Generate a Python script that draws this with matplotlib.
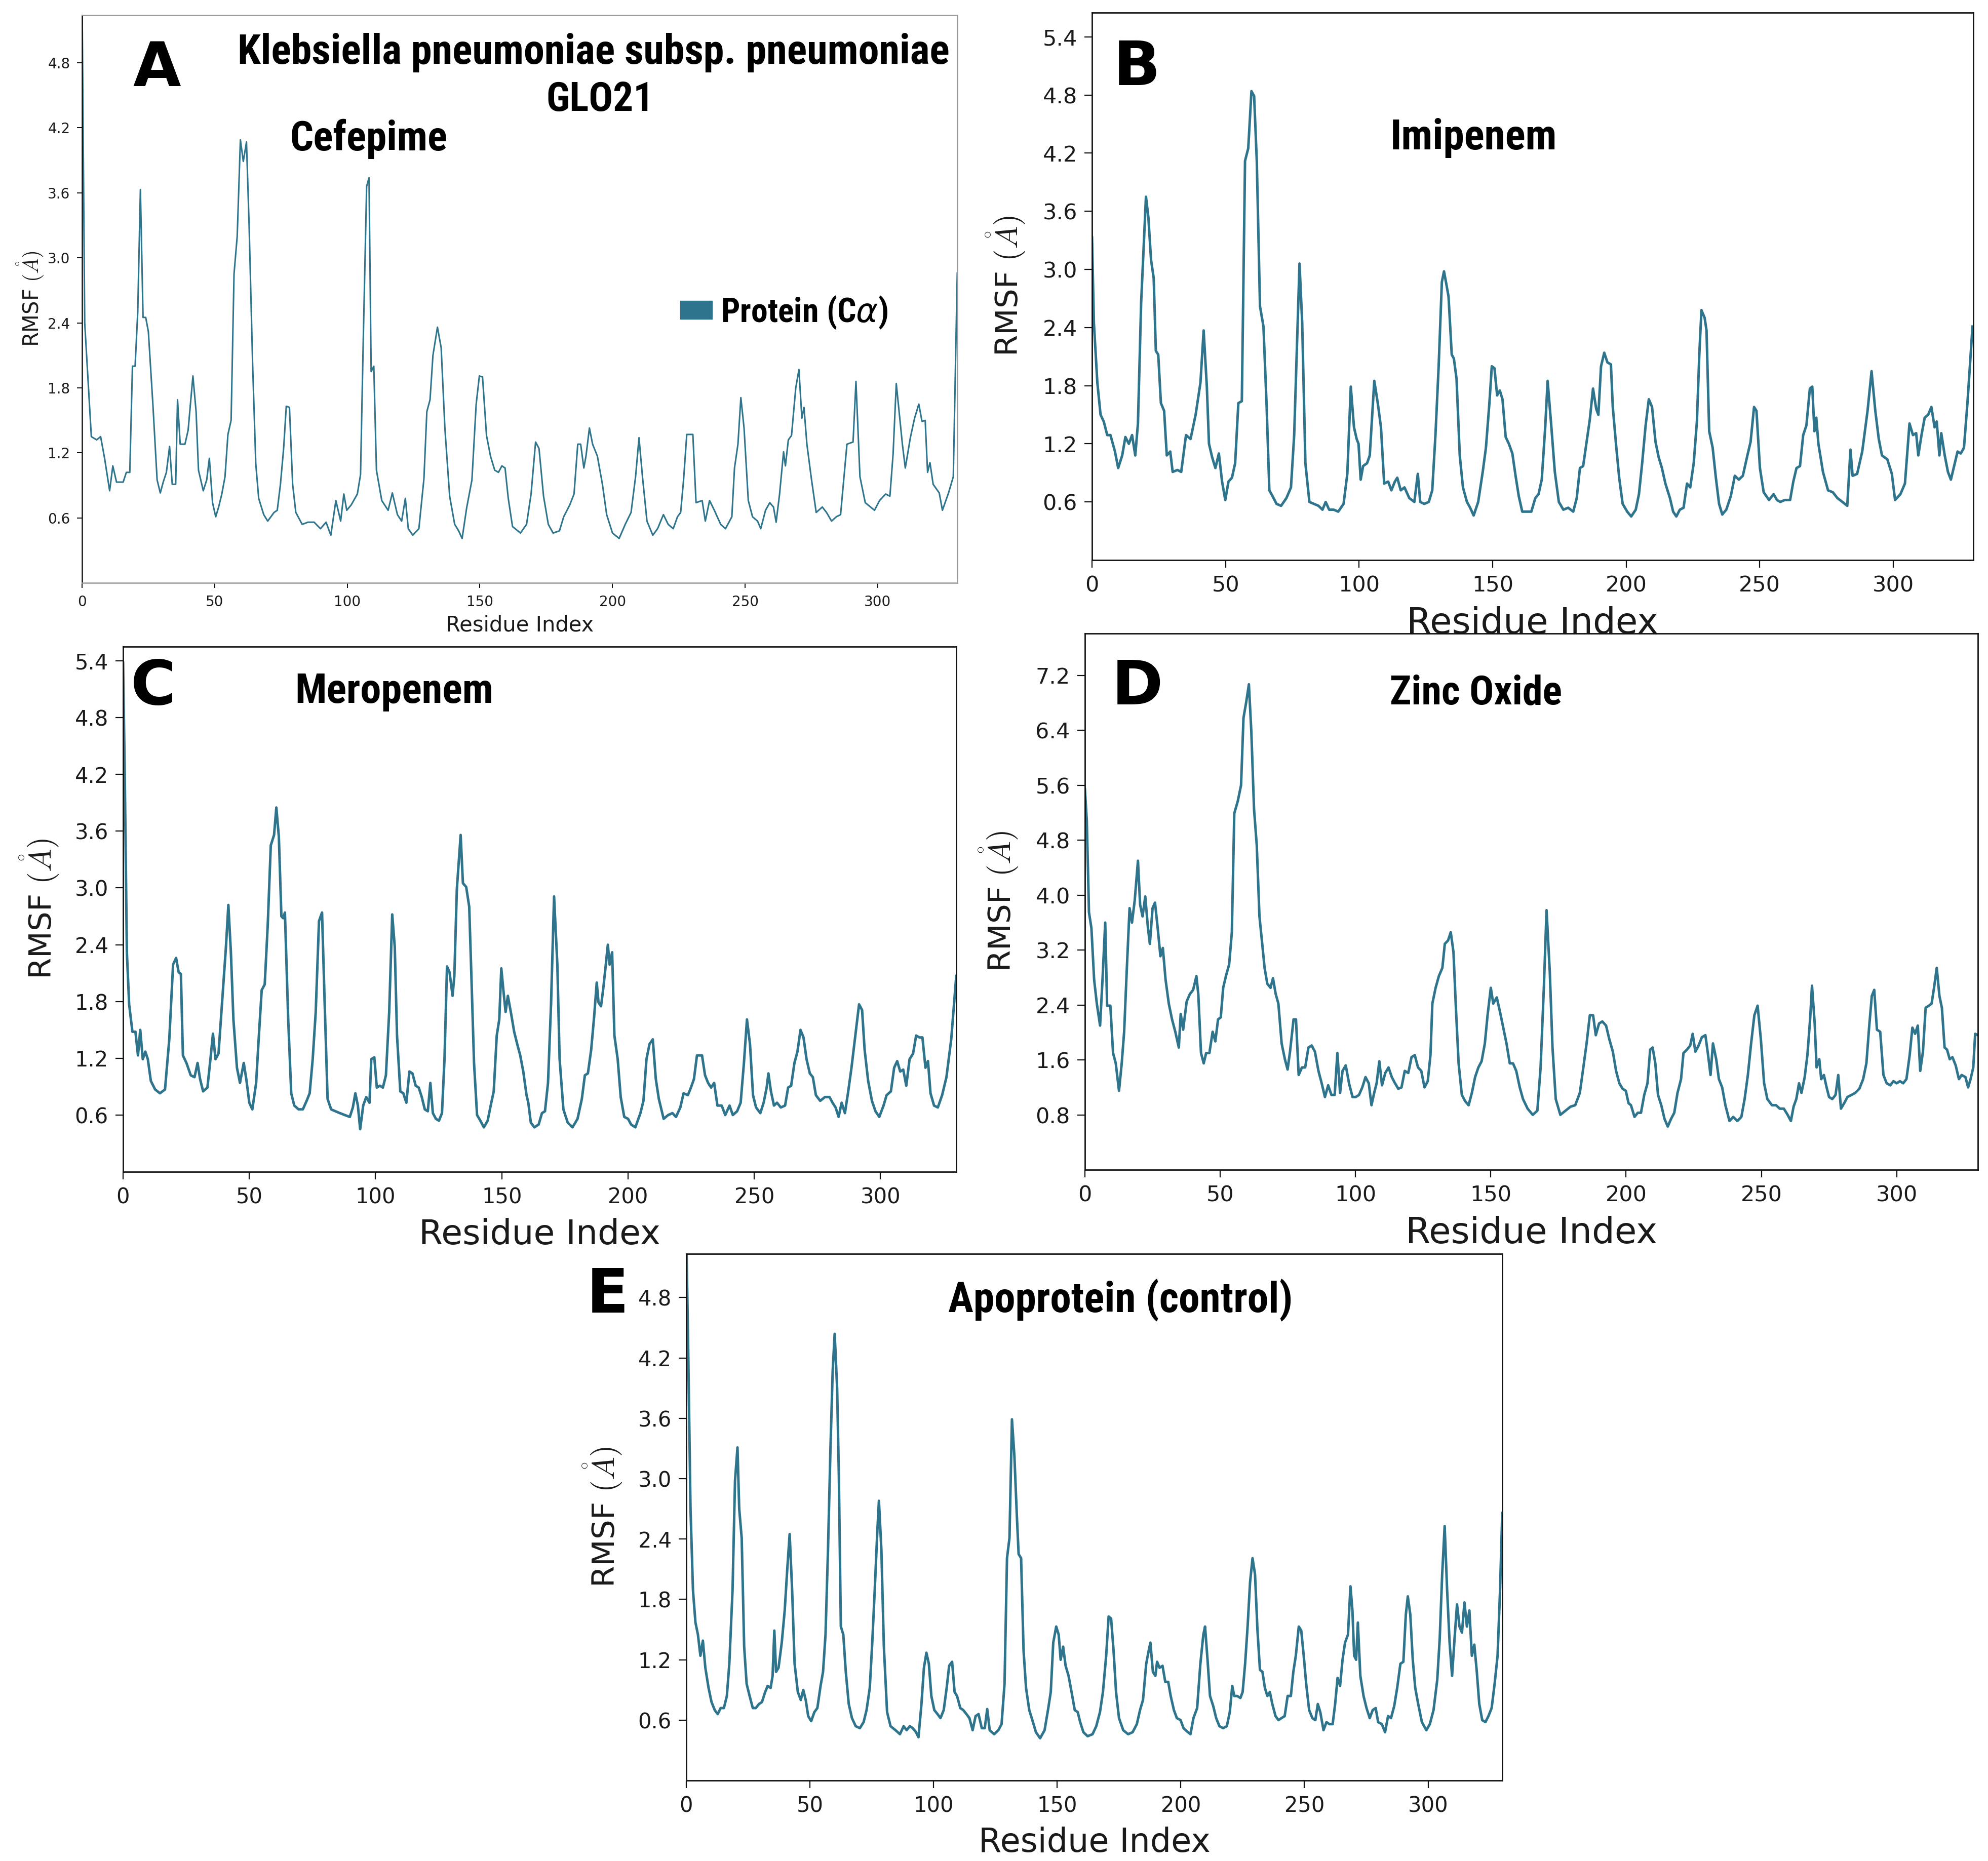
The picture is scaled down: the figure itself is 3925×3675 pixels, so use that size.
import matplotlib
matplotlib.use("Agg")

import matplotlib.pyplot as plt
from matplotlib.patches import Patch

W, H = 3925, 3675
LINE_COLOR = "#2e748c"
SPINE_COLOR = "#111111"
BOLD_FONT = ["Roboto Condensed", "Liberation Sans Narrow", "Liberation Sans", "DejaVu Sans"]

# --- RMSF traces (residue index, RMSF in Angstrom) ---
cef_res = [0, 1, 3.5, 5.5, 7, 8.5, 10.4, 11.6, 13, 15.5, 16.7, 18, 19, 20, 21, 22, 23, 24, 25, 26.7,
           28.3, 29.5, 30.6, 31.8, 33, 34, 35.3, 36, 37, 38.8, 40, 41.8, 43, 43.9, 45.7, 47, 48, 49.2,
           50.4, 51.5, 52.7, 53.9, 55, 56.2, 57.3, 58.5, 59.7, 60.8, 62, 63, 64.3, 65.5, 66.6, 68.5,
           70, 72.4, 73.6, 74.8, 76, 77, 78.2, 79.4, 80.6, 83, 85.2, 87.5, 89.9, 92, 93.8, 95.7, 97.5,
           98.7, 99.8, 101.5, 103.8, 105, 106, 107.3, 108.2, 109, 110, 111, 113, 115.4, 117, 118.9,
           120.5, 121.9, 123, 124.7, 127, 128.9, 130, 131.2, 132.3, 134, 135.4, 136.8, 138.6, 140.5,
           142, 143.3, 145, 147, 148.6, 149.8, 151, 152.5, 154, 155.6, 157, 158.3, 159.5, 160.7,
           162.3, 165.3, 167.6, 169.3, 171, 172.3, 174, 175.8, 177.6, 180, 181.6, 183.9, 185.5, 186.9,
           188, 189.2, 190, 191.3, 192.5, 194.3, 196.2, 197.8, 200, 202.5, 204.8, 207, 208.7, 210,
           211.3, 213, 215.2, 217, 219.2, 221, 222.9, 224.5, 225.7, 226.8, 228, 230.3, 231.5, 233.8,
           235, 236.6, 238.4, 240.8, 242.6, 245, 246, 247.3, 248.4, 249.6, 251.2, 252.8, 254.7, 255.9,
           257.7, 259.3, 260.7, 261.7, 263, 264.5, 265.2, 266.3, 267.5, 269.1, 270.3, 271.4, 272.2,
           273.3, 275, 276.8, 279.1, 280.7, 282.6, 284.4, 286, 288.4, 290.7, 291.8, 293.3, 295.3,
           298.8, 300.7, 303, 304.6, 305.8, 307, 309.3, 310.4, 312.3, 313.9, 315.5, 316.7, 317.9,
           318.8, 319.7, 320.9, 323.2, 324.4, 326.7, 328.5, 330]
cef_rmsf = [5.4, 2.4, 1.35, 1.32, 1.35, 1.15, 0.85, 1.08, 0.93, 0.93, 1.02, 1.02, 2.0, 2.0, 2.5, 3.63,
            2.45, 2.45, 2.32, 1.65, 0.95, 0.83, 0.93, 1.02, 1.26, 0.91, 0.91, 1.69, 1.28, 1.28, 1.41,
            1.91, 1.58, 1.04, 0.85, 0.95, 1.15, 0.74, 0.61, 0.70, 0.82, 0.98, 1.37, 1.5, 2.85, 3.2,
            4.09, 3.89, 4.07, 3.29, 2.03, 1.1, 0.78, 0.63, 0.57, 0.65, 0.67, 0.91, 1.24, 1.63, 1.62,
            0.91, 0.65, 0.54, 0.56, 0.56, 0.5, 0.56, 0.44, 0.76, 0.57, 0.82, 0.67, 0.72, 0.82, 1.0,
            2.21, 3.66, 3.74, 1.95, 2.0, 1.04, 0.76, 0.67, 0.83, 0.63, 0.57, 0.78, 0.5, 0.44, 0.5,
            0.96, 1.58, 1.69, 2.1, 2.36, 2.17, 1.43, 0.8, 0.54, 0.48, 0.41, 0.69, 0.95, 1.65, 1.91,
            1.9, 1.36, 1.17, 1.04, 1.02, 1.08, 1.06, 0.78, 0.52, 0.46, 0.54, 0.82, 1.3, 1.24, 0.8,
            0.54, 0.46, 0.48, 0.61, 0.72, 0.82, 1.28, 1.28, 1.06, 1.17, 1.43, 1.28, 1.17, 0.91, 0.63,
            0.46, 0.41, 0.54, 0.65, 0.98, 1.34, 0.98, 0.57, 0.44, 0.5, 0.63, 0.54, 0.5, 0.61, 0.65,
            0.95, 1.37, 1.37, 0.74, 0.76, 0.57, 0.76, 0.67, 0.54, 0.5, 0.61, 1.06, 1.28, 1.71, 1.43,
            0.76, 0.61, 0.57, 0.5, 0.67, 0.74, 0.7, 0.56, 0.82, 1.21, 1.08, 1.32, 1.36, 1.8, 1.97,
            1.52, 1.62, 1.28, 0.96, 0.65, 0.7, 0.65, 0.57, 0.61, 0.63, 1.28, 1.3, 1.86, 0.98, 0.74,
            0.67, 0.76, 0.82, 0.8, 1.19, 1.84, 1.28, 1.06, 1.34, 1.52, 1.65, 1.49, 1.5, 1.02, 1.11,
            0.91, 0.83, 0.67, 0.83, 0.98, 2.86]

imi_res = [0, 0.7, 2, 3.2, 4.4, 5.7, 6.9, 8.6, 9.8, 11.3, 12.5, 13.8, 15, 16.2, 17.2, 18.4, 20.2,
           21.1, 22.1, 23.1, 23.9, 24.8, 25.8, 27, 28, 29.3, 30.2, 32, 33.4, 35.2, 36.9, 38.8, 40.6,
           41.8, 43, 43.8, 45, 46.2, 47.5, 48.7, 49.9, 51.1, 52.4, 53.6, 54.8, 56.1, 57.3, 58.5, 59.7,
           60.7, 61.7, 62.9, 64.2, 65.4, 66.4, 67.6, 69.1, 70.8, 72.8, 74.5, 75.7, 77, 77.7, 78.7,
           79.9, 81.4, 83.1, 84.8, 86.3, 87.5, 88.8, 90.5, 92.2, 94.2, 95.6, 96.9, 98.1, 99.1, 99.8,
           100.6, 101.5, 103, 104, 105.7, 107, 108.2, 109.4, 110.9, 112.1, 113.4, 114.3, 115.6, 117,
           118.8, 120.7, 122, 122.9, 124.4, 126.1, 127.4, 128.6, 129.8, 131, 131.8, 132.8, 133.5,
           134.7, 135.5, 136.5, 137.7, 138.9, 140.4, 141.6, 142.9, 144.6, 146.3, 147.5, 148.8, 149.7,
           150.7, 151.7, 152.7, 153.7, 154.9, 156.1, 157.4, 158.6, 159.8, 161.1, 163, 164.5, 166,
           167.2, 168.4, 169.7, 170.6, 171.9, 173.3, 174.8, 176.5, 178.3, 180.2, 181.5, 182.7, 183.9,
           185.2, 186.4, 187.6, 188.8, 189.6, 190.6, 191.8, 193, 194.3, 195, 196.2, 197.4, 198.7,
           200.4, 201.9, 203.6, 204.8, 206, 207.3, 208.5, 209.7, 211, 212.2, 213.4, 214.7, 216.4,
           217.6, 218.8, 220.1, 221.5, 222.8, 224, 225.3, 226.5, 227.4, 228.2, 229.4, 230.1, 231.1,
           232.4, 233.6, 234.8, 236, 237.5, 239.2, 240.7, 242.2, 243.7, 245.4, 246.6, 247.9, 248.8,
           250.1, 251.5, 253.5, 255.2, 256.5, 257.7, 259.4, 261.4, 262.6, 263.8, 265.1, 266.3, 267.5,
           268.8, 269.7, 270.5, 271.2, 272, 273.7, 275.6, 277.4, 279.1, 281, 282.8, 284, 284.8,
           286.5, 288.4, 290.4, 291.9, 293.3, 294.6, 295.8, 297.8, 299.5, 300.7, 302.7, 304.4, 306.1,
           307.4, 308.6, 309.4, 310.6, 311.8, 313.1, 314.3, 315.5, 316.3, 317.3, 318, 319.3, 320.5,
           321.6, 322.8, 324.1, 325.3, 326.5, 327.8, 329.7]
imi_rmsf = [3.33, 2.45, 1.83, 1.5, 1.43, 1.29, 1.29, 1.12, 0.95, 1.08, 1.27, 1.2, 1.29, 1.08, 1.41,
            2.66, 3.75, 3.54, 3.1, 2.91, 2.16, 2.12, 1.62, 1.54, 1.08, 1.12, 0.91, 0.93, 0.91, 1.29,
            1.25, 1.5, 1.83, 2.37, 1.79, 1.2, 1.06, 0.95, 1.1, 0.81, 0.62, 0.81, 0.85, 1.0, 1.62,
            1.64, 4.12, 4.25, 4.84, 4.79, 4.12, 2.62, 2.41, 1.58, 0.72, 0.66, 0.58, 0.56, 0.64, 0.75,
            1.29, 2.45, 3.06, 2.45, 1.0, 0.6, 0.58, 0.56, 0.52, 0.6, 0.52, 0.52, 0.5, 0.58, 0.89,
            1.79, 1.37, 1.25, 1.2, 0.83, 0.97, 1.0, 1.08, 1.85, 1.62, 1.37, 0.79, 0.81, 0.72, 0.81,
            0.85, 0.72, 0.75, 0.64, 0.6, 0.89, 0.6, 0.58, 0.6, 0.72, 1.29, 2.0, 2.87, 2.98, 2.83,
            2.72, 2.12, 2.08, 1.87, 1.08, 0.75, 0.6, 0.54, 0.46, 0.6, 0.91, 1.16, 1.62, 2.0, 1.98,
            1.7, 1.75, 1.66, 1.27, 1.2, 1.1, 0.87, 0.66, 0.5, 0.5, 0.5, 0.64, 0.68, 0.83, 1.37, 1.85,
            1.41, 0.91, 0.6, 0.52, 0.54, 0.5, 0.64, 0.95, 0.97, 1.22, 1.45, 1.77, 1.56, 1.5, 2.0,
            2.14, 2.04, 2.02, 1.58, 1.2, 0.85, 0.58, 0.5, 0.45, 0.52, 0.68, 1.0, 1.39, 1.66, 1.58,
            1.22, 1.06, 0.95, 0.79, 0.64, 0.5, 0.45, 0.52, 0.54, 0.79, 0.75, 1.0, 1.43, 2.12, 2.58,
            2.5, 2.37, 1.33, 1.16, 0.85, 0.58, 0.47, 0.52, 0.66, 0.87, 0.83, 0.87, 1.08, 1.22, 1.58,
            1.54, 0.95, 0.7, 0.62, 0.68, 0.62, 0.6, 0.62, 0.62, 0.81, 0.95, 0.97, 1.29, 1.39, 1.77,
            1.79, 1.33, 1.47, 1.2, 0.91, 0.72, 0.7, 0.64, 0.6, 0.56, 1.14, 0.87, 0.89, 1.12, 1.54,
            1.95, 1.54, 1.25, 1.08, 1.04, 0.89, 0.62, 0.68, 0.79, 1.41, 1.29, 1.31, 1.08, 1.29, 1.47,
            1.5, 1.58, 1.37, 1.43, 1.08, 1.31, 1.08, 0.91, 0.83, 0.97, 1.12, 1.1, 1.16, 1.62, 2.41]

mero_res = [0, 0.7, 1.5, 2.4, 3.7, 4.9, 5.9, 6.8, 7.8, 8.8, 9.8, 11, 12.7, 14.6, 16.6, 18.3, 19.8,
            21, 22, 22.9, 23.7, 25.1, 26.8, 28.3, 29.5, 30.5, 31.7, 33.4, 34.6, 35.6, 36.6, 37.8,
            39.5, 40.7, 41.7, 42.7, 43.7, 45.1, 46.3, 47.8, 48.8, 50, 51.2, 52.7, 53.7, 54.9, 56.1,
            57.3, 58.5, 59.8, 60.7, 61.7, 62.7, 63.4, 64.1, 65.4, 66.6, 67.8, 69.5, 71.2, 72.7, 73.9,
            75.1, 76.3, 77.6, 78.8, 79.8, 81, 82.4, 84.1, 85.9, 87.8, 89.8, 91, 92, 93, 93.9, 95.1,
            96.3, 97.6, 98.3, 99.5, 100.5, 101.7, 102.9, 104.1, 105.4, 106.6, 107.6, 108.5, 109.8,
            111, 112.2, 113.4, 114.6, 115.9, 117.1, 118.3, 119.5, 120.7, 121.7, 122.7, 123.9, 125.1,
            126.3, 127.3, 128.3, 129.3, 130.5, 131.2, 132.2, 133.7, 134.6, 135.9, 137.1, 138, 139,
            140.2, 141.5, 142.9, 144.4, 145.6, 146.8, 148, 149, 149.8, 150.7, 151.5, 152.4, 153.7,
            154.9, 156.1, 157.3, 158.5, 159.8, 160.5, 161.5, 162.9, 164.6, 165.9, 167.1, 168.3,
            169.5, 170.7, 172, 172.9, 174.4, 176.1, 178, 180, 181.7, 182.9, 184.1, 185.4, 186.6,
            187.6, 188.3, 189.3, 190.2, 191.2, 192, 192.7, 193.7, 194.6, 195.9, 197.1, 198.5, 200,
            201.2, 202.9, 204.9, 206.1, 207.3, 208.5, 209.8, 211, 212.2, 214.1, 215.9, 217.6, 219,
            220.7, 222, 223.7, 224.9, 226.1, 227.3, 229.3, 230.5, 231.7, 232.9, 234.1, 235.4, 237.1,
            238.5, 240.2, 241.5, 243.2, 244.6, 245.9, 247.1, 248.3, 249.5, 250.7, 252.4, 253.7,
            254.9, 255.6, 256.6, 257.8, 259, 260.5, 262.2, 263.4, 264.6, 265.9, 267.1, 268.3, 269.5,
            270.7, 272, 273.2, 274.4, 276.1, 278, 279.8, 281, 282.2, 283.4, 284.6, 285.9, 287.1,
            288.5, 290.2, 291.5, 292.7, 293.7, 295.1, 296.6, 298, 299.5, 301.2, 302.4, 304.1, 305.4,
            306.6, 307.8, 309, 310.2, 311.5, 312.9, 314.1, 315.4, 316.6, 317.8, 318.8, 319.8, 321.2,
            322.7, 324.4, 326.1, 328, 330]
mero_rmsf = [5.38, 4.12, 2.32, 1.77, 1.48, 1.48, 1.23, 1.5, 1.19, 1.27, 1.19, 0.96, 0.87, 0.83,
             0.87, 1.4, 2.19, 2.26, 2.11, 2.09, 1.23, 1.15, 1.02, 1.0, 1.15, 0.98, 0.85, 0.89, 1.19,
             1.46, 1.19, 1.25, 1.9, 2.36, 2.82, 2.32, 1.61, 1.1, 0.94, 1.15, 0.98, 0.73, 0.66, 0.94,
             1.4, 1.92, 1.98, 2.61, 3.45, 3.56, 3.85, 3.54, 2.7, 2.68, 2.74, 1.61, 0.83, 0.7, 0.66,
             0.66, 0.75, 0.83, 1.19, 1.69, 2.65, 2.74, 1.82, 0.77, 0.66, 0.64, 0.62, 0.6, 0.58, 0.68,
             0.83, 0.7, 0.45, 0.7, 0.79, 0.73, 1.19, 1.21, 0.89, 0.91, 0.89, 1.02, 1.69, 2.72, 2.38,
             1.44, 0.85, 0.83, 0.73, 1.06, 1.04, 0.91, 0.89, 0.79, 0.66, 0.64, 0.94, 0.62, 0.56,
             0.54, 0.62, 1.19, 2.17, 2.11, 1.86, 2.07, 2.99, 3.56, 3.05, 3.01, 2.8, 2.03, 1.15, 0.6,
             0.54, 0.47, 0.54, 0.7, 0.85, 1.44, 1.61, 2.15, 1.9, 1.69, 1.86, 1.67, 1.48, 1.35, 1.23,
             1.06, 0.81, 0.73, 0.52, 0.47, 0.5, 0.62, 0.64, 0.94, 1.77, 2.91, 2.19, 1.19, 0.66, 0.52,
             0.47, 0.56, 0.77, 1.02, 1.04, 1.29, 1.65, 2.0, 1.79, 1.75, 1.94, 2.19, 2.4, 2.19, 2.32,
             1.44, 1.19, 0.79, 0.58, 0.56, 0.5, 0.47, 0.62, 0.75, 1.19, 1.35, 1.4, 0.98, 0.77, 0.56,
             0.6, 0.62, 0.58, 0.68, 0.83, 0.81, 0.89, 0.98, 1.23, 1.23, 1.02, 0.94, 0.89, 0.94, 0.7,
             0.7, 0.6, 0.7, 0.6, 0.64, 0.73, 1.15, 1.61, 1.35, 0.81, 0.68, 0.62, 0.73, 0.89, 1.04,
             0.85, 0.7, 0.73, 0.68, 0.7, 0.89, 0.91, 1.15, 1.27, 1.5, 1.42, 1.19, 1.04, 1.0, 0.81,
             0.75, 0.79, 0.79, 0.73, 0.68, 0.58, 0.73, 0.62, 0.83, 1.1, 1.48, 1.77, 1.71, 1.29, 0.96,
             0.75, 0.64, 0.58, 0.7, 0.81, 0.85, 1.1, 1.17, 1.06, 1.08, 0.91, 1.19, 1.25, 1.44, 1.42,
             1.42, 1.1, 1.17, 0.83, 0.7, 0.68, 0.81, 1.0, 1.4, 2.07]

zno_res = [0, 0.7, 1.5, 2.4, 3.4, 4.4, 5.6, 6.5, 7.5, 8.2, 9.4, 10.4, 11.4, 12.6, 13.6, 14.5, 15.5,
           16.5, 17.4, 18.4, 19.6, 20.4, 21.3, 22.3, 23.3, 24, 25, 25.9, 26.9, 27.9, 28.8, 29.8, 31,
           32.2, 33.4, 34.7, 35.4, 36.3, 37.6, 38.8, 40, 41.2, 41.9, 42.9, 43.9, 44.8, 46, 47.2,
           48.2, 49.2, 50.2, 51.1, 52.1, 53.3, 54.3, 55.2, 56.5, 57.7, 58.6, 59.6, 60.6, 61.5, 62.5,
           63.5, 64.5, 65.4, 66.4, 67.4, 68.6, 69.5, 70.5, 71.5, 72.7, 73.9, 74.9, 75.8, 77.1, 78,
           79, 80.2, 81.4, 82.6, 83.8, 85, 86.3, 87.5, 88.7, 89.9, 91.1, 92.3, 93.3, 94.3, 95.2,
           96.4, 97.6, 98.9, 100.1, 101.3, 102.5, 103.7, 104.9, 105.9, 106.9, 107.8, 108.8, 109.8,
           111, 112.2, 113.4, 114.6, 115.8, 117, 118.2, 119.5, 120.7, 121.9, 123.1, 124.3, 125.5,
           126.7, 127.7, 128.4, 129.6, 130.8, 132.1, 133, 134.2, 135.2, 136.2, 137.1, 138.1, 139.3,
           140.5, 141.8, 143, 144.2, 145.4, 146.6, 147.8, 148.8, 150, 150.9, 152.2, 153.4, 154.6,
           155.8, 157, 158.2, 159.4, 160.7, 161.9, 163.6, 165.5, 167.2, 168.4, 169.6, 170.6, 171.8,
           172.8, 174, 175.7, 177.6, 179.5, 181.2, 182.9, 184.2, 185.4, 186.6, 187.8, 188.8, 190,
           191.2, 192.6, 193.8, 195.1, 196.3, 197.5, 198.7, 199.9, 200.9, 201.8, 203.1, 204.3,
           205.5, 206.7, 207.9, 208.9, 209.8, 210.8, 211.8, 213, 214.2, 215.4, 216.6, 217.8, 219,
           220.3, 221.2, 222.5, 223.7, 224.6, 225.6, 226.8, 228, 229.3, 230.2, 231.2, 232.1, 233.3,
           234.3, 235.5, 236.7, 238.2, 239.6, 241.1, 242.6, 243.8, 245, 246.2, 247.4, 248.6, 249.8,
           251, 252.2, 253.9, 255.4, 256.8, 258.3, 259.7, 260.9, 261.9, 262.9, 263.9, 264.8, 266,
           267, 268, 268.7, 269.7, 270.4, 271.4, 272.1, 273.1, 274.1, 275, 276.2, 277.4, 278.4,
           279.4, 280.6, 281.8, 283.3, 284.7, 286.2, 287.6, 288.8, 289.8, 290.8, 291.7, 292.7,
           293.9, 295.1, 296.3, 297.6, 298.8, 300, 301.2, 302.4, 303.6, 304.8, 305.8, 306.8, 307.8,
           308.7, 309.7, 310.7, 311.9, 312.9, 313.8, 314.8, 315.8, 316.7, 317.7, 318.6, 319.6,
           320.6, 321.8, 323, 324, 325.4, 326.4, 327.3, 328.3, 329, 330]
zno_rmsf = [5.54, 5.08, 3.75, 3.52, 2.77, 2.42, 2.1, 2.77, 3.6, 2.39, 2.39, 1.7, 1.55, 1.15, 1.55,
            2.01, 2.94, 3.81, 3.6, 3.92, 4.5, 3.86, 3.69, 3.98, 3.52, 3.29, 3.81, 3.89, 3.52, 3.11,
            3.23, 2.77, 2.42, 2.19, 2.01, 1.78, 2.27, 2.04, 2.45, 2.56, 2.62, 2.82, 2.56, 1.7, 1.55,
            1.7, 1.7, 2.01, 1.87, 2.19, 2.22, 2.65, 2.82, 2.99, 3.46, 5.19, 5.37, 5.6, 6.58, 6.81,
            7.07, 6.38, 5.25, 4.73, 3.69, 3.34, 2.94, 2.71, 2.65, 2.79, 2.56, 2.42, 1.84, 1.61, 1.46,
            1.72, 2.19, 2.19, 1.38, 1.49, 1.49, 1.78, 1.81, 1.72, 1.44, 1.26, 1.06, 1.23, 1.09, 1.09,
            1.7, 1.12, 1.44, 1.52, 1.26, 1.06, 1.06, 1.09, 1.2, 1.35, 1.26, 0.94, 1.12, 1.26, 1.58,
            1.23, 1.41, 1.49, 1.35, 1.26, 1.18, 1.2, 1.44, 1.41, 1.64, 1.67, 1.49, 1.44, 1.2, 1.29,
            1.67, 2.42, 2.65, 2.82, 2.94, 3.29, 3.34, 3.46, 3.17, 2.36, 1.55, 1.09, 1.0, 0.94, 1.12,
            1.35, 1.49, 1.58, 1.84, 2.25, 2.65, 2.42, 2.51, 2.3, 2.07, 1.84, 1.55, 1.55, 1.44, 1.2,
            1.03, 0.89, 0.8, 0.86, 1.49, 2.65, 3.78, 2.88, 1.78, 1.03, 0.8, 0.86, 0.92, 0.94, 1.12,
            1.49, 1.84, 2.25, 2.25, 1.96, 2.13, 2.16, 2.1, 1.9, 1.72, 1.44, 1.26, 1.18, 1.15, 0.97,
            0.94, 0.77, 0.83, 0.83, 1.09, 1.26, 1.75, 1.78, 1.55, 1.09, 0.94, 0.74, 0.63, 0.74, 0.83,
            1.12, 1.32, 1.7, 1.75, 1.81, 1.98, 1.72, 1.81, 1.93, 1.96, 1.7, 1.38, 1.84, 1.61, 1.32,
            1.2, 0.94, 0.71, 0.77, 0.71, 0.77, 1.03, 1.38, 1.84, 2.25, 2.39, 1.9, 1.26, 1.03, 0.94,
            0.94, 0.89, 0.89, 0.8, 0.71, 0.92, 1.03, 1.26, 1.12, 1.35, 1.67, 2.19, 2.68, 2.13, 1.49,
            1.61, 1.32, 1.38, 1.2, 1.06, 1.03, 1.09, 1.38, 0.89, 0.97, 1.06, 1.09, 1.12, 1.18, 1.32,
            1.55, 2.07, 2.53, 2.62, 2.04, 2.01, 1.38, 1.26, 1.23, 1.29, 1.26, 1.29, 1.26, 1.32, 1.67,
            2.07, 1.98, 2.1, 1.44, 1.72, 2.36, 2.39, 2.42, 2.65, 2.94, 2.53, 2.36, 1.78, 1.75, 1.61,
            1.64, 1.52, 1.32, 1.38, 1.35, 1.2, 1.32, 1.49, 1.98, 1.96]

apo_res = [0, 0.7, 1.7, 2.7, 3.7, 4.7, 5.7, 6.7, 7.7, 9, 10.2, 11.5, 12.7, 13.9, 15.2, 16.4, 17.4,
           18.7, 19.7, 20.7, 21.4, 22.4, 23.4, 24.4, 25.6, 26.9, 28.1, 29.4, 30.6, 31.9, 32.9, 34.1,
           34.9, 35.6, 36.3, 37.3, 38.6, 39.8, 40.8, 41.8, 42.8, 43.8, 45.1, 46.3, 47.3, 48.3, 49.3,
           50.5, 51.8, 53, 54.3, 55.3, 56.3, 57.3, 58.3, 59.2, 60, 61, 61.7, 62.5, 63.5, 64.5, 65.7,
           67, 68.5, 70.2, 71.7, 72.9, 74.2, 75.2, 76.2, 77.2, 77.9, 78.9, 79.9, 81.2, 82.6, 84.6,
           86.4, 87.9, 89.1, 90.4, 91.6, 92.9, 93.9, 95.1, 96.1, 97.1, 98.1, 99.1, 100.3, 101.6,
           102.8, 104.1, 105.3, 106.3, 107.5, 108.5, 109.5, 110.8, 112, 113.3, 114.5, 115.8, 117,
           118.2, 119.5, 120.7, 121.7, 122.7, 124.5, 126.2, 127.5, 128.7, 129.7, 130.7, 131.7,
           132.7, 133.7, 134.4, 135.4, 136.4, 137.4, 138.7, 140.2, 141.4, 143.1, 144.9, 146.4,
           147.4, 148.4, 149.6, 150.6, 151.4, 152.4, 153.4, 154.6, 155.8, 157.1, 158.3, 159.3,
           160.6, 162.3, 164.3, 165.8, 167.3, 168.5, 169.8, 170.8, 171.8, 172.8, 173.8, 175, 176.7,
           178.7, 180.5, 182.2, 183.5, 184.7, 186, 187, 187.7, 188.7, 189.7, 190.4, 191.4, 192.6,
           193.7, 194.9, 195.9, 197.2, 198.4, 199.9, 201.1, 202.4, 203.9, 205.1, 206.6, 207.9,
           209.1, 209.8, 210.8, 211.8, 213.1, 214.3, 215.6, 217.1, 218.6, 219.8, 220.8, 221.6,
           222.8, 224.1, 225, 226, 227, 228, 229, 230, 231, 232, 233, 234, 235, 236, 237, 238.3,
           239.5, 240.7, 242, 243.2, 244.5, 245.5, 246.5, 247.7, 248.7, 249.7, 250.7, 251.9, 253.2,
           254.4, 255.4, 256.4, 257.7, 258.9, 260.1, 261.4, 262.4, 263.4, 264.4, 265.4, 266.4,
           267.6, 268.6, 269.4, 270.1, 270.9, 271.6, 272.6, 273.9, 275.1, 276.4, 277.6, 278.8,
           279.8, 281.3, 282.6, 283.8, 285, 286.3, 287.5, 288.8, 290, 291, 291.8, 292.8, 293.8,
           294.8, 296, 297.5, 299.3, 300.7, 302.2, 303.7, 304.7, 305.7, 306.7, 307.7, 308.7, 309.7,
           310.7, 311.7, 312.7, 313.7, 314.7, 315.7, 316.7, 317.7, 318.7, 319.7, 320.7, 321.9,
           323.2, 324.4, 325.7, 326.9, 328.1, 329.1, 330]
apo_rmsf = [5.4, 4.39, 2.7, 1.89, 1.57, 1.45, 1.24, 1.39, 1.12, 0.92, 0.78, 0.7, 0.66, 0.72, 0.72,
            0.84, 1.16, 1.89, 2.98, 3.31, 2.7, 2.41, 1.33, 0.96, 0.84, 0.72, 0.72, 0.76, 0.78, 0.88,
            0.94, 0.92, 1.04, 1.49, 1.08, 1.12, 1.37, 1.69, 2.09, 2.45, 1.89, 1.16, 0.88, 0.8, 0.9,
            0.8, 0.64, 0.59, 0.68, 0.72, 0.94, 1.08, 1.45, 2.29, 3.3, 4.07, 4.44, 3.9, 3.02, 1.53,
            1.45, 1.08, 0.76, 0.62, 0.54, 0.52, 0.58, 0.7, 0.92, 1.37, 1.89, 2.45, 2.78, 2.29, 1.33,
            0.68, 0.54, 0.5, 0.46, 0.54, 0.5, 0.54, 0.52, 0.48, 0.43, 0.76, 1.12, 1.27, 1.16, 0.84,
            0.7, 0.66, 0.62, 0.7, 0.92, 1.14, 1.18, 0.88, 0.84, 0.72, 0.7, 0.66, 0.62, 0.5, 0.64,
            0.66, 0.52, 0.52, 0.71, 0.5, 0.46, 0.5, 0.56, 0.96, 2.21, 2.41, 3.59, 3.22, 2.62, 2.25,
            2.21, 1.29, 0.92, 0.7, 0.58, 0.48, 0.42, 0.5, 0.72, 0.88, 1.37, 1.53, 1.45, 1.2, 1.33,
            1.14, 1.04, 0.88, 0.7, 0.68, 0.58, 0.48, 0.44, 0.46, 0.54, 0.68, 0.88, 1.24, 1.63, 1.61,
            1.29, 0.88, 0.62, 0.5, 0.46, 0.48, 0.56, 0.7, 0.8, 1.16, 1.29, 1.37, 1.08, 1.04, 1.18,
            1.12, 1.14, 0.98, 0.98, 0.84, 0.7, 0.62, 0.6, 0.52, 0.49, 0.46, 0.62, 0.72, 1.16, 1.45,
            1.53, 1.2, 0.84, 0.74, 0.62, 0.54, 0.52, 0.54, 0.68, 0.94, 0.84, 0.84, 0.82, 0.88, 1.16,
            1.53, 1.97, 2.21, 2.05, 1.49, 1.1, 1.08, 0.92, 0.84, 0.88, 0.76, 0.64, 0.6, 0.62, 0.64,
            0.84, 0.84, 1.08, 1.24, 1.53, 1.49, 1.24, 0.96, 0.7, 0.62, 0.6, 0.76, 0.68, 0.5, 0.58,
            0.56, 0.56, 0.76, 1.02, 0.94, 1.2, 1.37, 1.45, 1.93, 1.69, 1.24, 1.2, 1.57, 1.04, 0.84,
            0.72, 0.62, 0.7, 0.72, 0.58, 0.56, 0.48, 0.64, 0.62, 0.74, 0.92, 1.16, 1.18, 1.65, 1.83,
            1.65, 1.2, 0.92, 0.76, 0.58, 0.5, 0.56, 0.7, 1.0, 1.41, 2.05, 2.53, 1.89, 1.37, 1.04,
            1.41, 1.75, 1.53, 1.47, 1.77, 1.53, 1.69, 1.24, 1.35, 1.08, 0.76, 0.6, 0.58, 0.64, 0.72,
            0.96, 1.24, 1.89, 2.66]

yticks_06 = [0.6, 1.2, 1.8, 2.4, 3.0, 3.6, 4.2, 4.8, 5.4]
yticks_08 = [0.8, 1.6, 2.4, 3.2, 4.0, 4.8, 5.6, 6.4, 7.2]
xticks = [0, 50, 100, 150, 200, 250, 300]


def fig_rect(x0, y0, x1, y1):
    """Axes rect in figure fraction from reference pixel box (top-left origin)."""
    return [x0 / W, 1 - y1 / H, (x1 - x0) / W, (y1 - y0) / H]


def fx(px):
    return px / W


def fy(py):
    return 1 - py / H


def fit_width(fig, text, target_px, max_size):
    """Shrink a text so that its rendered width matches the reference width."""
    renderer = fig.canvas.get_renderer()
    width = text.get_window_extent(renderer).width
    text.set_fontsize(min(text.get_fontsize() * target_px / width, max_size))


def draw_panel(fig, box, res, rmsf, ymax, yticks, lw, tick_fs, xlab_fs, ylab_fs,
               xpad, ypad, tick_len, tick_pad, spine_lw):
    ax = fig.add_axes(fig_rect(*box))
    ax.plot(res, rmsf, color=LINE_COLOR, lw=lw, solid_joinstyle="round")
    ax.set_xlim(0, 330)
    ax.set_ylim(0, ymax)
    ax.set_xticks(xticks)
    ax.set_yticks([t for t in yticks if t < ymax])
    ax.set_yticklabels([f"{t:.1f}" for t in yticks if t < ymax])
    ax.tick_params(labelsize=tick_fs, length=tick_len, width=spine_lw * 0.8,
                   pad=tick_pad, color=SPINE_COLOR, labelcolor="#1a1a1a")
    for sp in ax.spines.values():
        sp.set_linewidth(spine_lw)
        sp.set_color(SPINE_COLOR)
    ax.set_xlabel("Residue Index", fontsize=xlab_fs, labelpad=xpad, color="#1a1a1a")
    ax.set_ylabel(r"RMSF $(\mathring{A})$", fontsize=ylab_fs, labelpad=ypad,
                  color="#1a1a1a", math_fontfamily="cm")
    return ax


fig = plt.figure(figsize=(W / 100, H / 100), dpi=100)

ax_a = draw_panel(fig, (162, 30, 1890, 1151), cef_res, cef_rmsf, 5.24, yticks_06,
                  2.2, 20, 30, 30, 8, 3, 7, 10, 1.8)
# panel A's frame is light grey except for the left axis line
for side in ("top", "right", "bottom"):
    ax_a.spines[side].set_color("#9a9a9a")
draw_panel(fig, (2156, 25, 3896, 1106), imi_res, imi_rmsf, 5.65, yticks_06,
           3.6, 31, 51, 44, 14, 22, 11, 10, 2.0)
draw_panel(fig, (243, 1277, 1888, 2314), mero_res, mero_rmsf, 5.55, yticks_06,
           3.6, 30, 49, 44, 14, 20, 11, 10, 2.0)
draw_panel(fig, (2142, 1251, 3905, 2310), zno_res, zno_rmsf, 7.81, yticks_08,
           3.6, 31, 51, 44, 14, 22, 11, 10, 2.0)
draw_panel(fig, (1355, 2476, 2966, 3516), apo_res, apo_rmsf, 5.235, yticks_06,
           3.6, 30, 47, 44, 14, 20, 11, 10, 2.0)

# legend of panel A
leg = ax_a.legend(handles=[Patch(facecolor=LINE_COLOR, edgecolor=LINE_COLOR)],
                  labels=[r"Protein (C$\alpha$)"], loc="center left",
                  bbox_to_anchor=(fx(1343), fy(617)), bbox_transform=fig.transFigure,
                  frameon=False, borderpad=0, borderaxespad=0, handlelength=0.95,
                  handleheight=0.45, handletextpad=0.25,
                  prop={"family": BOLD_FONT, "weight": "bold", "size": 48})

# panel letters
for letter, x, y in [("A", 262, 170), ("B", 2198, 168), ("C", 258, 1391),
                     ("D", 2195, 1391), ("E", 1158, 2592)]:
    fig.text(fx(x), fy(y), letter, fontsize=88, fontweight="bold",
             family="DejaVu Sans", ha="left", va="baseline")

# panel titles: (text, centre x, baseline y, width in reference pixels)
titles = [("Klebsiella pneumoniae subsp. pneumoniae", 1172, 126, 1407),
          ("GLO21", 1185, 219, 213), ("Cefepime", 728, 297, 311),
          ("Imipenem", 2910, 295, 331), ("Meropenem", 778, 1388, 392),
          ("Zinc Oxide", 2914, 1391, 340), ("Apoprotein (control)", 2212, 2590, 768)]
fig.canvas.draw()
for txt, xc, yb, width in titles:
    t = fig.text(fx(xc), fy(yb), txt, fontsize=54, fontweight="bold", family=BOLD_FONT,
                 ha="center", va="baseline")
    fit_width(fig, t, width, 60)
fit_width(fig, leg.get_texts()[0], 330, 50)

fig.savefig("out.png", dpi=100, facecolor="white")
